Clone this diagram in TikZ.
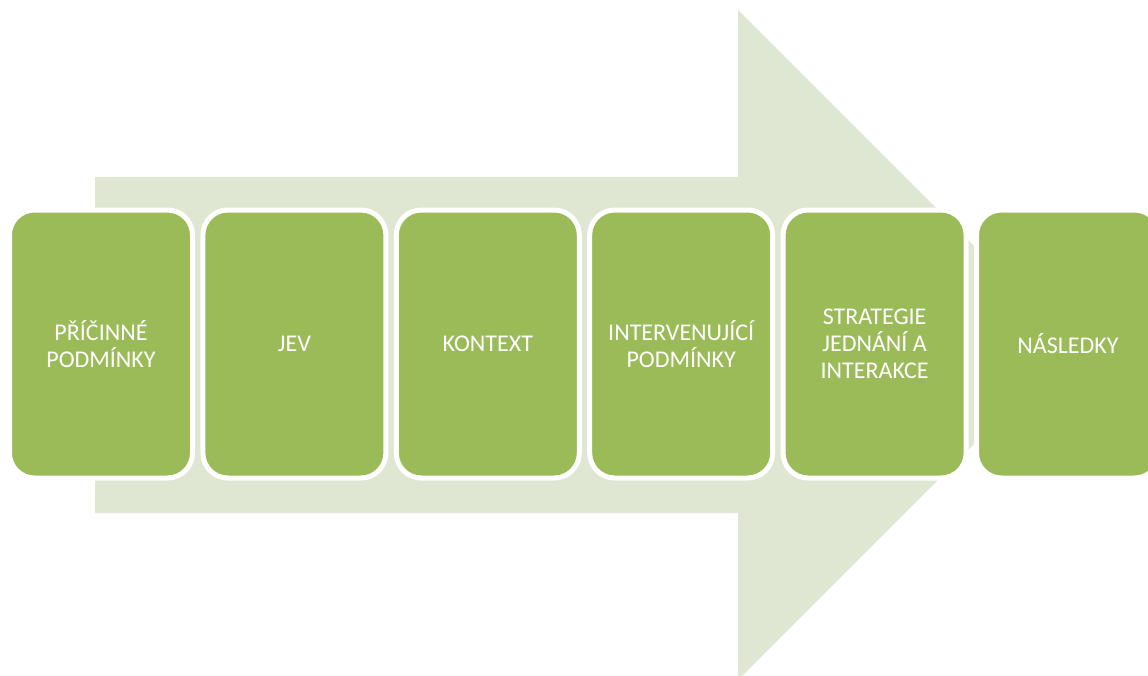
\documentclass[tikz,border=0pt]{standalone}
\usepackage{fontspec}
\setmainfont{Carlito}
\usetikzlibrary{positioning}
\definecolor{boxgreen}{HTML}{9BBB59}
\definecolor{pale}{HTML}{DFE7D3}

\begin{document}
\begin{tikzpicture}[x=1pt, y=-1pt, line join=round]
	\tikzset{
		phase/.style={rectangle, rounded corners=25pt, fill=boxgreen, draw=white, line width=5pt,
			minimum width=183pt, minimum height=268pt, inner sep=6pt, outer sep=0pt,
			text=white, align=center, font=\fontsize{24}{27}\selectfont}
	}
	\clip (0,0) rectangle (1148,675);
	% big arrow behind the boxes
	\path (95,177) coordinate (S1) (738,177) coordinate (H1) (738,10) coordinate (H2)
		(1073,345) coordinate (T) (738,680) coordinate (H3) (738,513) coordinate (H4)
		(95,513) coordinate (S2);
	\fill [pale] (S1)--(H1)--(H2)--(T)--(H3)--(H4)--(S2)--cycle;
	% boxes
	\node [phase] (p1) at (101,344) {PŘÍČINNÉ\\PODMÍNKY};
	\foreach \i/\j/\t in {2/1/{JEV}, 3/2/{KONTEXT}, 4/3/{INTERVENUJÍCÍ\\PODMÍNKY},
		5/4/{STRATEGIE\\JEDNÁNÍ A\\INTERAKCE}, 6/5/{NÁSLEDKY}}{
		\node [phase, right=10.4pt of p\j] (p\i) {\t};
	}
\end{tikzpicture}
\end{document}
